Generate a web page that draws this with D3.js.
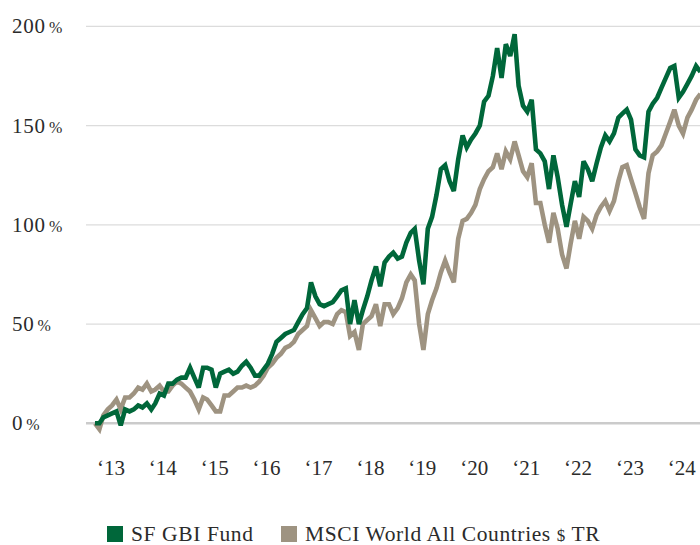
<!DOCTYPE html>
<html>
<head>
<meta charset="utf-8">
<script src="https://cdn.jsdelivr.net/npm/d3@7"></script>
<style>
  body { margin: 0; background: #fff; }
  svg  { display: block; font-family: "Liberation Serif", "DejaVu Serif", serif; }
</style>
</head>
<body>
<div id="chart"></div>
<script>
// Cumulative return, monthly, starting Jan 2013 (in %).

const startMonth = '2013-01';

const fundName  = 'SF GBI Fund';
const indexName = 'MSCI World All Countries $ TR';

const fundValues = [
  0, 0, 3, 4, 5, 6, -1, 7, 6, 7, 9, 8,
  10, 7, 10, 15, 14, 20, 20, 22, 23, 23, 28, 23,
  18, 28, 28, 27, 18, 25, 26, 27, 25, 26, 29, 31,
  28, 24, 24, 27, 30, 35, 41, 43, 45, 46, 47, 51,
  55, 58, 71, 64, 60, 59, 60, 61, 64, 67, 68, 50,
  62, 50, 57, 64, 72, 79, 69, 81, 84, 86, 83, 84,
  91, 96, 98, 82, 70, 98, 104, 115, 128, 130, 122, 117,
  133, 145, 139, 143, 146, 150, 162, 165, 175, 189, 174, 191,
  185, 196, 170, 160, 157, 163, 138, 136, 132, 118, 135, 124,
  110, 99, 110, 122, 114, 132, 128, 122, 131, 139, 145, 142,
  146, 154, 156, 158, 153, 138, 135, 134, 157, 161, 164, 169,
  174, 179, 180, 164, 167, 171, 175, 180, 177,
];

const indexValues = [
  0, -3, 4, 7, 9, 12, 7, 13, 13, 15, 18, 17,
  20, 16, 17, 19, 16, 16, 19, 21, 20, 18, 16, 12,
  7, 13, 12, 9, 6, 6, 14, 14, 16, 18, 18, 19,
  18, 19, 21, 24, 28, 30, 33, 35, 38, 39, 41, 45,
  47, 49, 57, 53, 49, 51, 51, 50, 55, 57, 56, 44,
  46, 37, 50, 52, 54, 60, 49, 60, 60, 55, 58, 63,
  71, 75, 72, 50, 37, 55, 62, 68, 76, 82, 76, 71,
  93, 102, 103, 106, 110, 118, 123, 127, 129, 136, 128, 137,
  133, 142, 135, 127, 124, 131, 111, 111, 100, 91, 106, 98,
  85, 78, 90, 102, 93, 104, 102, 98, 105, 109, 112, 107,
  112, 122, 129, 130, 123, 116, 109, 103, 126, 135, 137, 140,
  146, 152, 158, 150, 146, 154, 158, 163, 166,
];

const yTickValues = [0, 50, 100, 150, 200];
const xTickYears  = [2013, 2014, 2015, 2016, 2017, 2018, 2019, 2020, 2021, 2022, 2023, 2024];
const xTickLabels = ['‘13', '‘14', '‘15', '‘16', '‘17', '‘18', '‘19', '‘20', '‘21', '‘22', '‘23', '‘24'];

// ─── Setup ──────────────────────────────────────────────────────────────────

const W = 700, H = 545;
const theme = {
  fund:  '#00673a',
  index: '#9e9381',
  grid:  '#dcdcdc',
  zero:  '#cbcbcb',
  text:  '#2b2b2b',
};

const parseMonth = d3.timeParse('%Y-%m');
const start  = parseMonth(startMonth);
const months = d3.timeMonth.range(start, d3.timeMonth.offset(start, fundValues.length));

const series = [
  { name: indexName, color: theme.index, values: indexValues.map((v, i) => ({ date: months[i], value: v })) },
  { name: fundName,  color: theme.fund,  values: fundValues.map((v, i)  => ({ date: months[i], value: v })) },
];

const svg = d3.select('#chart')
  .append('svg')
  .attr('width', W)
  .attr('height', H);

svg.append('rect').attr('width', W).attr('height', H).attr('fill', '#fff');

// Scales
const x = d3.scaleTime()
  .domain([start, months[months.length - 1]])
  .range([95, 700.5]);

const y = d3.scaleLinear()
  .domain([0, 200])
  .range([423.3, 26.3]);

// ─── Grid + Y labels ────────────────────────────────────────────────────────

const gGrid = svg.append('g').attr('class', 'grid');
gGrid.selectAll('line')
  .data(yTickValues)
  .join('line')
  .attr('x1', 86)
  .attr('x2', W)
  .attr('y1', d => y(d))
  .attr('y2', d => y(d))
  .attr('stroke', d => d === 0 ? theme.zero : theme.grid)
  .attr('stroke-width', d => d === 0 ? 2.5 : 1.3);

const yLabels = svg.append('g').attr('class', 'axis-y')
  .selectAll('text')
  .data(yTickValues)
  .join('text')
  .attr('x', 12)
  .attr('y', d => y(d) + 7)
  .attr('fill', theme.text)
  .style('font-size', '21px')
  .style('letter-spacing', '0.8px');

yLabels.append('tspan').text(d => d);
yLabels.append('tspan').attr('dx', 3).style('font-size', '16px').text('%');

// ─── X labels ───────────────────────────────────────────────────────────────

svg.append('g').attr('class', 'axis-x')
  .selectAll('text')
  .data(xTickYears)
  .join('text')
  .attr('x', d => x(new Date(d, 0, 1)) + 2)
  .attr('y', 475)
  .attr('fill', theme.text)
  .style('font-size', '21px')
  .text((d, i) => xTickLabels[i]);

// ─── Lines ──────────────────────────────────────────────────────────────────

const line = d3.line()
  .x(d => x(d.date))
  .y(d => y(d.value));

svg.append('g').attr('class', 'lines')
  .selectAll('path')
  .data(series)
  .join('path')
  .attr('fill', 'none')
  .attr('stroke', s => s.color)
  .attr('stroke-width', 4.6)
  .attr('stroke-linejoin', 'miter')
  .attr('stroke-miterlimit', 3)
  .attr('d', s => line(s.values));

// ─── Legend ─────────────────────────────────────────────────────────────────

const legendItems = [
  { name: fundName,  color: theme.fund,  x: 107 },
  { name: indexName, color: theme.index, x: 281 },
];

const gLegend = svg.append('g').attr('class', 'legend')
  .selectAll('g')
  .data(legendItems)
  .join('g')
  .attr('transform', d => `translate(${d.x},526)`);

gLegend.append('rect')
  .attr('width', 16)
  .attr('height', 16)
  .attr('fill', d => d.color);

gLegend.append('text')
  .attr('x', 24)
  .attr('y', 15)
  .attr('fill', theme.text)
  .style('font-size', '21.5px')
  .style('letter-spacing', '0.6px')
  .each(function (d) {
    const t = d3.select(this);
    const parts = d.name.split('$');
    t.append('tspan').text(parts[0]);
    if (parts.length > 1) {
      t.append('tspan').style('font-size', '17px').text('$');
      t.append('tspan').text(parts[1]);
    }
  });
</script>
</body>
</html>
